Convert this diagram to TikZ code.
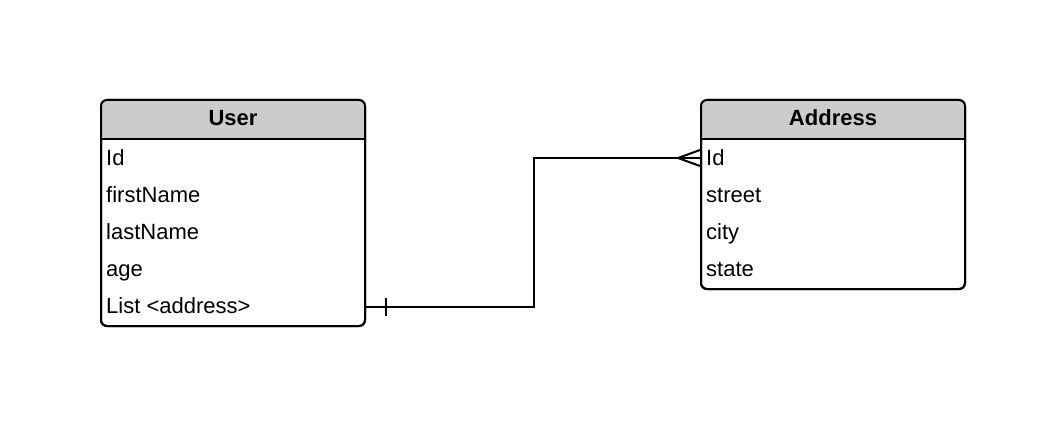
\documentclass[tikz,border=0pt]{standalone}
\usepackage{fontspec}
\setmainfont{Liberation Sans}
\usetikzlibrary{calc}
\begin{document}
\begin{tikzpicture}[x=1pt,y=-1pt,
  tablebox/.style={draw=black, line width=2pt, rounded corners=6pt, minimum width=264pt, inner sep=0pt},
  hdrfill/.style={fill=black!20},
  title/.style={anchor=base, font=\fontsize{22}{24}\selectfont\bfseries, inner sep=0pt},
  row/.style={anchor=base west, font=\fontsize{22}{24}\selectfont, inner sep=0pt},
  conn/.style={draw=black, line width=2pt}]
\useasboundingbox (0,0) rectangle (1063,441);
% User table
\node[tablebox, minimum height=226pt] (user) at (233,213) {};
\begin{scope}
  \clip[rounded corners=6pt] (user.north west) rectangle (user.south east);
  \fill[hdrfill] (user.north west) rectangle ($(user.north east)+(0,40)$);
\end{scope}
\draw[line width=2pt] ($(user.north west)+(0,40)$) -- ($(user.north east)+(0,40)$);
\node[tablebox, minimum height=226pt] at (user.center) {};
\node[title] (usert) at (233,126) {User};
\node[row] (u1) at (106,165) {Id};
\node[row] (u2) at (106,202) {firstName};
\node[row] (u3) at (106,239) {lastName};
\node[row] (u4) at (106,276) {age};
\node[row] (u5) at (106,313) {List <address>};
% Address table
\node[tablebox, minimum height=189pt] (addr) at (833,194.5) {};
\begin{scope}
  \clip[rounded corners=6pt] (addr.north west) rectangle (addr.south east);
  \fill[hdrfill] (addr.north west) rectangle ($(addr.north east)+(0,40)$);
\end{scope}
\draw[line width=2pt] ($(addr.north west)+(0,40)$) -- ($(addr.north east)+(0,40)$);
\node[tablebox, minimum height=189pt] at (addr.center) {};
\node[title] (addrt) at (833,126) {Address};
\node[row] (a1) at (706,165) {Id};
\node[row] (a2) at (706,202) {street};
\node[row] (a3) at (706,239) {city};
\node[row] (a4) at (706,276) {state};
% connector
\coordinate (ub) at (user.east |- 0,307);
\coordinate (ab) at (addr.west |- 0,158);
\draw[conn] (ub) -- ($(ub)+(168,0)$) |- (ab);
\draw[conn] ($(ub)+(20,-9)$) -- ++(0,18);
\draw[conn] ($(ab)+(0,-8)$) -- ++(-22,8) -- ++(22,8);
\end{tikzpicture}
\end{document}
